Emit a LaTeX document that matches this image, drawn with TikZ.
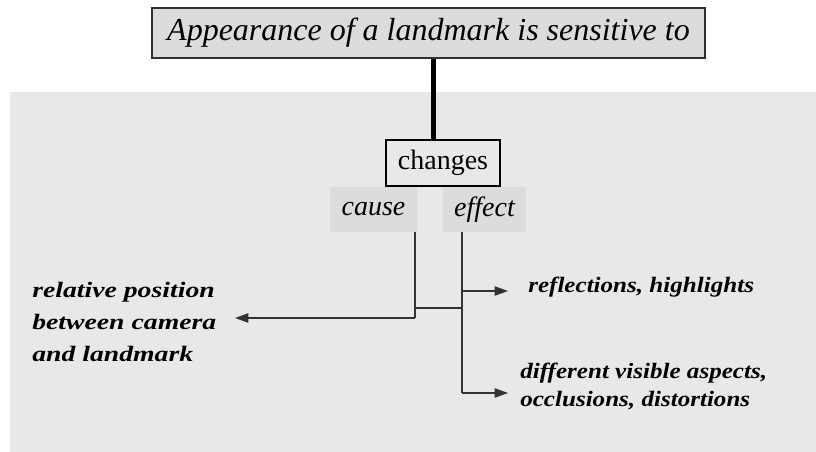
\documentclass[tikz,border=0pt]{standalone}
\usepackage{fontspec}
\setmainfont{LiberationSerif}[Extension=.ttf,UprightFont=*-Regular,ItalicFont=*-Italic,BoldFont=*-Bold,BoldItalicFont=*-BoldItalic]
\newfontfamily\lblfontL{LiberationSerif}[Extension=.ttf,UprightFont=*-Regular,ItalicFont=*-Italic,BoldFont=*-Bold,BoldItalicFont=*-BoldItalic,FakeStretch=1.26]
\newfontfamily\lblfontR{LiberationSerif}[Extension=.ttf,UprightFont=*-Regular,ItalicFont=*-Italic,BoldFont=*-Bold,BoldItalicFont=*-BoldItalic,FakeStretch=1.14]
\usetikzlibrary{arrows.meta}
\definecolor{bggray}{HTML}{E8E8E8}
\definecolor{boxgray}{HTML}{DCDCDC}
\definecolor{edgegray}{HTML}{303030}
\begin{document}
\begin{tikzpicture}[x=0.75pt,y=-0.75pt,
  titlebox/.style={draw=edgegray,line width=1.1pt,fill=boxgray,inner sep=0pt,
    minimum width=414.75pt,minimum height=37.5pt,font=\fontsize{24}{28}\selectfont\itshape},
  chbox/.style={draw=black,line width=0.9pt,fill=bggray,inner sep=0pt,
    minimum width=85.5pt,minimum height=34.5pt,font=\fontsize{21}{25}\selectfont},
  tagbox/.style={fill=boxgray,inner sep=0pt,minimum height=33.75pt,
    font=\fontsize{21}{25}\selectfont\itshape},
  lblL/.style={inner sep=0pt,align=left,font=\lblfontL\fontsize{16.5}{21}\selectfont\bfseries\itshape},
  lblR/.style={inner sep=0pt,align=left,font=\lblfontR\fontsize{16.5}{21}\selectfont\bfseries\itshape},
  conn/.style={draw=black!80,line width=0.9pt},
  arr/.style={conn,-{Triangle[length=10pt,width=7pt]}}
]
\useasboundingbox (0,0) rectangle (816,452);
\fill[bggray] (10,92) rectangle (816,452);

\node[titlebox] (title) at (428.5,33) {Appearance of a landmark is sensitive to};
\node[chbox] (changes) at (443,163) {changes};
\node[tagbox,minimum width=65.25pt] (cause) at (373.5,209.5) {cause};
\node[tagbox,minimum width=62.25pt] (effect) at (484.5,209.5) {effect};

\node[lblL,anchor=west] (rel) at (32,322) {relative position\\[3pt]between camera\\[3pt]and landmark};
\node[lblR,anchor=base west] (refl) at (528,292) {reflections, highlights};
\node[lblR,anchor=west] (diff) at (520,386) {different visible aspects,\\occlusions, distortions};

\coordinate (tl) at (433,100);
\draw[line width=3.75pt] (tl |- title.south) -- (tl |- changes.north);

\coordinate (c1) at (415,318);
\coordinate (j1) at (415,308);
\coordinate (j2) at (462,308);
\coordinate (e1) at (462,291);
\coordinate (e2) at (462,393);
\coordinate (tipL) at (235,318);
\coordinate (tipR1) at (508,291);
\coordinate (tipR2) at (508,393);

\draw[conn] (cause.south -| c1) -- (c1);
\draw[arr] (c1) -- (tipL);
\draw[conn] (j1) -- (j2);
\draw[conn] (effect.south -| e2) -- (e2);
\draw[arr] (e1) -- (tipR1);
\draw[arr] (e2) -- (tipR2);
\end{tikzpicture}
\end{document}
